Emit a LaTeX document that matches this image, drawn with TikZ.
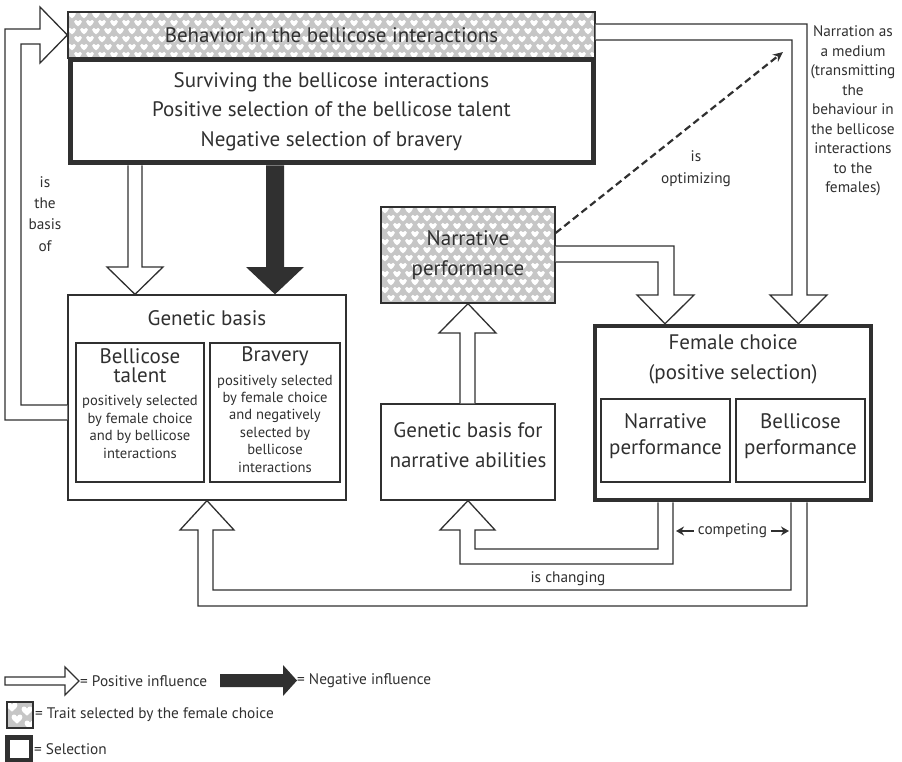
\documentclass[tikz,border=0pt]{standalone}
\usepackage{fontspec}
\setmainfont{PT Sans}
\usetikzlibrary{arrows.meta,calc}
\definecolor{ink}{HTML}{303030}
\definecolor{hatch}{HTML}{C6C6C6}
\newcommand{\fsz}[2]{\fontsize{#1}{#2}\selectfont}
\newcommand{\heartfield}[6]{%
  \begin{scope}
    \clip (#1,#2) rectangle (#3,#4);
    \fill[hatch] (#1,#2) rectangle (#3,#4);
    \foreach \r in {0,...,#6}{
      \foreach \c in {0,...,#5}{
        \pic at ({#1+4+12*\c+6*mod(\r,2)},{#2+3+8*\r}) {heart};
      }
    }
  \end{scope}}
\tikzset{
  box/.style={draw=ink, line width=1.3pt, inner sep=0pt, text=ink, align=center},
  selbox/.style={draw=ink, line width=5pt, inner sep=0pt, text=ink, align=center},
  posarr/.style={draw=ink, line width=1.3pt, fill=white, line join=miter},
  negarr/.style={fill=ink, draw=none},
  lbl/.style={text=ink, align=center, inner sep=0pt},
  heart/.pic={\begin{scope}[scale=1.3]\fill[white] (0,2.6) .. controls (-1,1.5) and (-3,0.4) .. (-3,-1)
      .. controls (-3,-2.8) and (-0.7,-3) .. (0,-1.3)
      .. controls (0.7,-3) and (3,-2.8) .. (3,-1)
      .. controls (3,0.4) and (1,1.5) .. (0,2.6) -- cycle;\end{scope}},
  bigheart/.pic={\begin{scope}[scale=1.8]\fill[white] (0,2.6) .. controls (-1,1.5) and (-3,0.4) .. (-3,-1)
      .. controls (-3,-2.8) and (-0.7,-3) .. (0,-1.3)
      .. controls (0.7,-3) and (3,-2.8) .. (3,-1)
      .. controls (3,0.4) and (1,1.5) .. (0,2.6) -- cycle;\end{scope}}
}
\begin{document}
\begin{tikzpicture}[x=1pt,y=-1pt]
\useasboundingbox (0,0) rectangle (902,762);

% ---------- boxes ----------
\heartfield{68}{12}{595}{58}{44}{6}
\node[box, minimum width=527pt, minimum height=46pt, font=\fsz{21}{24}] (tb) at (331.5,35) {Behavior in the bellicose interactions};

\node[selbox, minimum width=523pt, minimum height=103pt, font=\fsz{21}{29.5}] (sel) at (331.5,111.5)
  {Surviving the bellicose interactions\\Positive selection of the bellicose talent\\Negative selection of bravery};

\node[box, minimum width=278pt, minimum height=205pt] (gen) at (207,397.5) {};
\node[lbl, font=\fsz{21}{24}] (gent) at (207,318) {Genetic basis};
\node[box, minimum width=128pt, minimum height=139pt] (bt) at (140,412.5) {};
\node[lbl, font=\fsz{21}{19.5}] (btt) at (140,365.5) {Bellicose\\talent};
\node[lbl, font=\fsz{14.6}{17.4}] (btb) at (140,427) {positively selected\\by female choice\\and by bellicose\\interactions};
\node[box, minimum width=130pt, minimum height=139pt] (br) at (275,412.5) {};
\node[lbl, font=\fsz{21}{24}] (brt) at (275,356) {Bravery};
\node[lbl, font=\fsz{14.6}{17.4}] (brb) at (275,423.5) {positively selected\\by female choice\\and negatively\\selected by\\bellicose\\interactions};

\heartfield{381}{207}{555}{303}{15}{12}
\node[box, minimum width=174pt, minimum height=96pt, font=\fsz{21}{29.5}] (np) at (468,255) {Narrative\\performance};

\node[box, minimum width=174pt, minimum height=96pt] (gn) at (468,452) {};
\node[lbl, font=\fsz{21}{30}] (gnt) at (468,445) {Genetic basis for\\narrative abilities};

\node[selbox, line width=4.5pt, minimum width=276pt, minimum height=174pt] (fc) at (733,413) {};
\node[lbl, font=\fsz{21}{30}] (fct) at (733,359) {Female choice\\(positive selection)};
\node[box, minimum width=129pt, minimum height=83pt] (fn) at (665.5,440.5) {};
\node[lbl, font=\fsz{21}{26}] (fnt) at (665.5,436) {Narrative\\performance};
\node[box, minimum width=129pt, minimum height=83pt] (fb) at (800.5,440.5) {};
\node[lbl, font=\fsz{21}{26}] (fbt) at (800.5,436) {Bellicose\\performance};

% ---------- labels ----------
\node[lbl, font=\fsz{15.3}{21.3}] (basis) at (45,214) {is\\the\\basis\\of};
\node[lbl, font=\fsz{15.3}{22}] (opt) at (696,169) {is\\optimizing};
\node[lbl, font=\fsz{15.3}{19.5}] (narr) at (853,111) {Narration as\\a medium\\(transmitting\\the\\behaviour in\\the bellicose\\interactions\\to the\\females)};
\node[lbl, font=\fsz{15.3}{17}] (cmp) at (732.5,531) {competing};
\node[lbl, font=\fsz{15.3}{17}] (chg) at (568,579) {is changing};

% ---------- arrows ----------
\draw[posarr] (gen.west |- 0,405) -- (21,405) -- (21,44) -- (40,44) -- (40,63) -- (tb.west) -- (40,7) -- (40,29) -- (5,29) -- (5,420) -- (gen.west |- 0,420);

\draw[posarr] (128,0 |- sel.south) -- (128,267) -- (107,267) -- (135,0 |- gen.north) -- (163,267) -- (142,267) -- (142,0 |- sel.south);
\fill[negarr] (266,0 |- sel.south) -- (266,267) -- (246,267) -- (275,0 |- gen.north) -- (304,267) -- (284,267) -- (284,0 |- sel.south) -- cycle;

\draw[posarr] (460,0 |- gn.north) -- (460,333) -- (439,333) -- (468,0 |- np.south) -- (496,333) -- (475,333) -- (475,0 |- gn.north);

\draw[posarr] (np.east |- 0,246) -- (674,246) -- (674,295) -- (694,295) -- (665,0 |- fc.north) -- (637,295) -- (658,295) -- (658,262) -- (np.east |- 0,262);

\draw[posarr] (tb.east |- 0,24) -- (807,24) -- (807,295) -- (827,295) -- (798.5,0 |- fc.north) -- (770,295) -- (792,295) -- (792,40) -- (tb.east |- 0,40);

\coordinate (optend) at (783,52);
\draw[ink, line width=2.2pt, dash pattern=on 7pt off 4pt, -{Stealth[length=10pt,width=9pt]}] (np.east |- 0,233) -- (optend);

\draw[posarr] (658,0 |- fc.south) -- (658,549) -- (475,549) -- (475,530) -- (495,530) -- (468,0 |- gn.south) -- (440,530) -- (460,530) -- (460,564) -- (673,564) -- (673,0 |- fc.south);

\draw[posarr] (791,0 |- fc.south) -- (791,590) -- (213,590) -- (213,530) -- (234,530) -- (207,0 |- gen.south) -- (180,530) -- (198,530) -- (198,606) -- (807,606) -- (807,0 |- fc.south);

\coordinate (cmpl) at (676,531);
\coordinate (cmpr) at (789,531);
\draw[ink, line width=1.3pt, -{Stealth[length=8pt,width=9pt]}] ([xshift=-4pt]cmp.west) -- (cmpl);
\draw[ink, line width=1.3pt, -{Stealth[length=8pt,width=9pt]}] ([xshift=4pt]cmp.east) -- (cmpr);

% ---------- legend ----------
\draw[posarr] (5,677) -- (65,677) -- (65,667) -- (79,681) -- (65,695) -- (65,685) -- (5,685) -- cycle;
\node[lbl, anchor=west, font=\fsz{15.3}{17}] (lpos) at (80,681) {= Positive influence};
\fill[negarr] (220,674) -- (283,674) -- (283,665) -- (297,680.5) -- (283,696) -- (283,687) -- (220,687) -- cycle;
\node[lbl, anchor=west, font=\fsz{15.3}{17}] (lneg) at (297,681) {= Negative influence};

\begin{scope}
  \clip (7,702) rectangle (33,728);
  \fill[hatch] (7,702) rectangle (33,728);
  \pic at (12,707) {bigheart};
  \pic at (27,711) {bigheart};
  \pic at (17,719) {bigheart};
  \pic at (30,725) {bigheart};
\end{scope}
\node[box, line width=1.2pt, minimum width=26pt, minimum height=26pt] (lhat) at (20,715) {};
\node[lbl, anchor=west, font=\fsz{15.3}{17}] (lhatt) at (35,715) {= Trait selected by the female choice};

\node[selbox, line width=4.5pt, minimum width=23.5pt, minimum height=22.5pt] (lsel) at (19,748.5) {};
\node[lbl, anchor=west, font=\fsz{15.3}{17}] (lselt) at (34,749) {= Selection};
\end{tikzpicture}
\end{document}
